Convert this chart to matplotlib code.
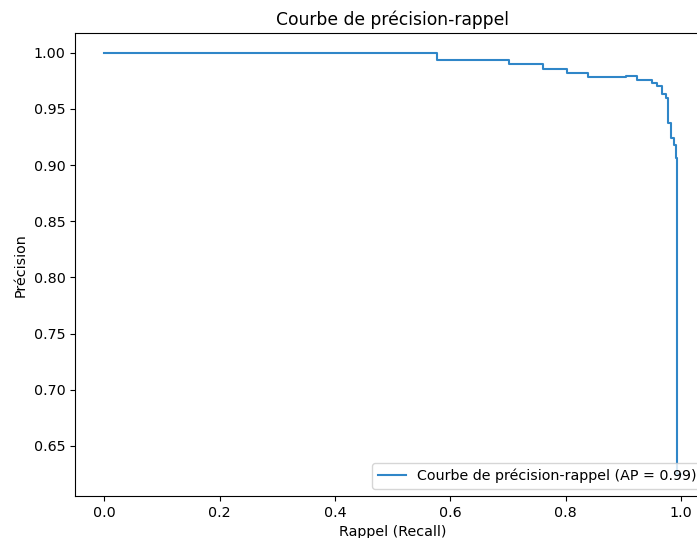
import numpy as np
import matplotlib
matplotlib.use("Agg")
import matplotlib.pyplot as plt

# points (recall increasing, steps-post)
recall = [0.0, 0.577, 0.702, 0.761, 0.802, 0.839, 0.88, 0.905, 0.923,
          0.949, 0.958, 0.967, 0.974, 0.978, 0.982, 0.987, 0.991, 0.9935, 1.0]
precision = [1.0, 0.9935, 0.9897, 0.9855, 0.9817, 0.9781, 0.9786, 0.9795, 0.9760,
             0.9733, 0.9704, 0.9632, 0.9594, 0.9372, 0.9238, 0.9178, 0.906, 0.625, 0.625]
ap = 0.99

plt.rcParams["font.size"] = 10.25

fig = plt.figure(figsize=(6.97, 5.38), dpi=100)
ax = fig.add_axes([0.108, 0.0781, 0.9105, 0.860])

ax.plot(recall, precision, drawstyle="steps-post", color="#2f86c8",
        label="Courbe de précision-rappel (AP = %.2f)" % ap)

ax.set_xlim(-0.05, 1.05)
ax.set_ylim(0.6055, 1.0173)
ax.set_xticks([0.0, 0.2, 0.4, 0.6, 0.8, 1.0])
ax.set_yticks(np.arange(0.65, 1.001, 0.05))
ax.set_xlabel("Rappel (Recall)")
ax.set_ylabel("Précision")
ax.set_title("Courbe de précision-rappel")
ax.legend(loc="lower right")

fig.savefig("out.png", dpi=100)
